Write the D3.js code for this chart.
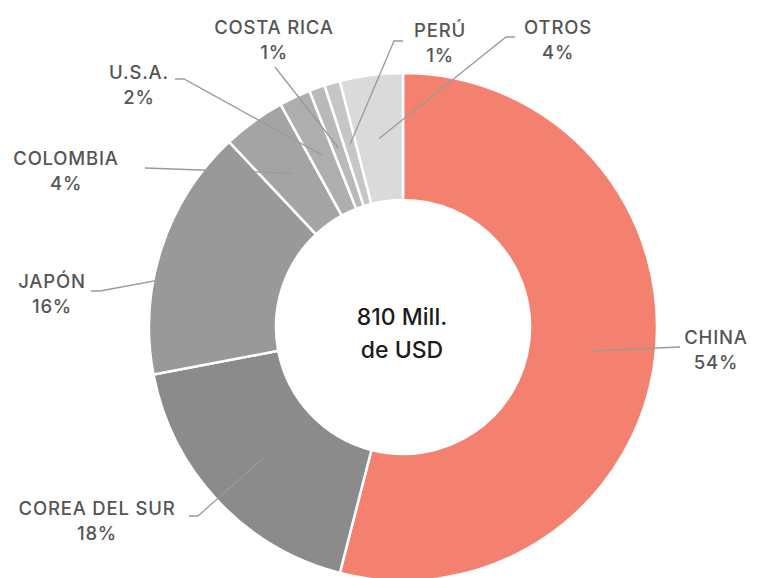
<!DOCTYPE html>
<html>
<head>
<meta charset="utf-8">
<script src="https://cdn.jsdelivr.net/npm/d3@7"></script>
<style>
    body { margin: 0; background: #fff; }
    svg { display: block; }
    .lbl { font-family: Inter, "Open Sans", sans-serif; font-size: 18.5px; font-weight: 500; letter-spacing: 0.8px; fill: #555; }
    .center { font-family: Inter, "Open Sans", sans-serif; font-size: 23px; font-weight: 500; fill: #1c1c1c; }
</style>
</head>
<body>
<div id="chart"></div>
<script>
/* Chart data. */
const countries = ['CHINA', 'COREA DEL SUR', 'JAPÓN', 'COLOMBIA', 'U.S.A.', 'COSTA RICA', 'PERÚ', 'OTROS'];
const shares = [54, 18, 16, 4, 2, 1, 1, 4];
const colors = ['#f4806f', '#8b8b8b', '#999999', '#a4a4a4', '#aeaeae', '#b9b9b9', '#c6c6c6', '#dadada'];
const centerLines = ['810 Mill.', 'de USD'];

// Label placement (elbow of leader line, short tail direction and text centre).
const labelLayout = [
    {ex: 680, ey: 347, tail: 0, tx: 716, ty: 338},
    {ex: 198, ey: 516, tail: -9, tx: 97, ty: 509},
    {ex: 100, ey: 291, tail: -9, tx: 52, ty: 282},
    {ex: 145, ey: 168, tail: 0, tx: 66, ty: 159},
    {ex: 184, ey: 79, tail: -9, tx: 139, ty: 73},
    {ex: 275, ey: 67, tail: 0, tx: 274, ty: 28},
    {ex: 394, ey: 41, tail: 9, tx: 440, ty: 31},
    {ex: 506, ey: 37, tail: 9, tx: 558, ty: 28}
];

const width = 768;
const height = 578;
const cx = 403, cy = 327;
const outerR = 254, innerR = 127;

const svg = d3.select('#chart').append('svg')
    .attr('width', width)
    .attr('height', height);

const g = svg.append('g').attr('transform', 'translate(' + cx + ',' + cy + ')');

const pie = d3.pie().sort(null).value(function (d) { return d; });
const arcs = pie(shares);

const arc = d3.arc().innerRadius(innerR).outerRadius(outerR);
const mid = d3.arc().innerRadius(190).outerRadius(190);

// Slices.
g.selectAll('path.slice')
    .data(arcs)
    .enter()
    .append('path')
    .attr('class', 'slice')
    .attr('d', arc)
    .attr('fill', function (d, i) { return colors[i]; })
    .attr('stroke', '#fff')
    .attr('stroke-width', 2.5);

// Leader lines.
svg.selectAll('polyline')
    .data(arcs)
    .enter()
    .append('polyline')
    .attr('points', function (d, i) {
        const c = mid.centroid(d);
        const l = labelLayout[i];
        const pts = [[cx + c[0], cy + c[1]], [l.ex, l.ey]];
        if (l.tail !== 0) pts.push([l.ex + l.tail, l.ey]);
        return pts.map(function (p) { return p.join(','); }).join(' ');
    })
    .attr('fill', 'none')
    .attr('stroke', '#9a9a9a')
    .attr('stroke-width', 1.3);

// Labels.
const labels = svg.selectAll('text.lbl')
    .data(arcs)
    .enter()
    .append('text')
    .attr('class', 'lbl')
    .attr('text-anchor', 'middle');

labels.append('tspan')
    .attr('x', function (d, i) { return labelLayout[i].tx; })
    .attr('y', function (d, i) { return labelLayout[i].ty + 6; })
    .text(function (d, i) { return countries[i]; });

labels.append('tspan')
    .attr('x', function (d, i) { return labelLayout[i].tx; })
    .attr('y', function (d, i) { return labelLayout[i].ty + 31; })
    .text(function (d, i) { return shares[i] + '%'; });

// Centre text.
svg.append('text')
    .attr('class', 'center')
    .attr('text-anchor', 'middle')
    .selectAll('tspan')
    .data(centerLines)
    .enter()
    .append('tspan')
    .attr('x', cx - 1)
    .attr('y', function (d, i) { return 325 + i * 33; })
    .text(function (d) { return d; });
</script>
</body>
</html>
